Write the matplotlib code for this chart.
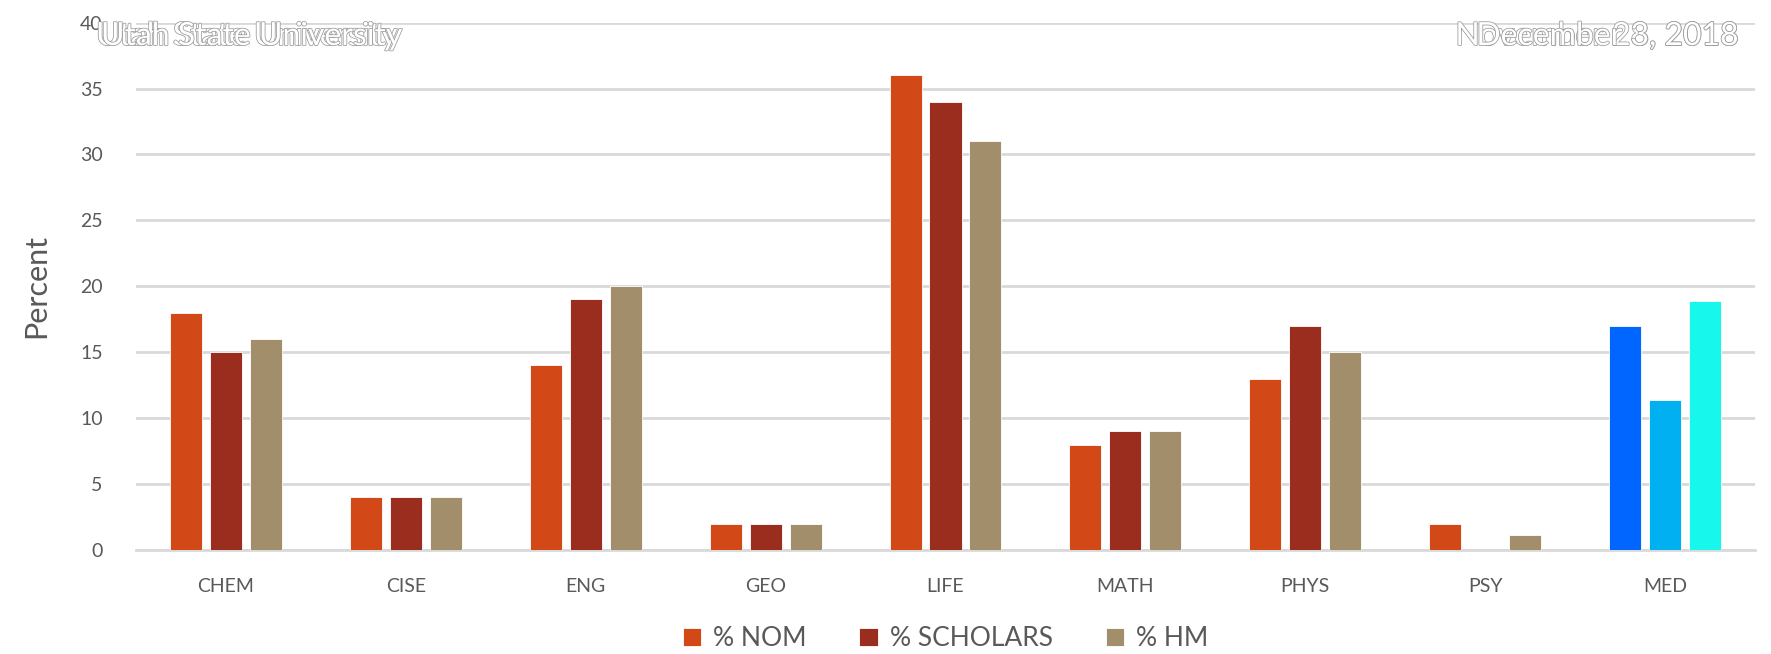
import matplotlib.pyplot as plt
import matplotlib.patheffects as pe
import numpy as np

plt.rcParams['font.family'] = ['Lato', 'DejaVu Sans']

categories = ['CHEM', 'CISE', 'ENG', 'GEO', 'LIFE', 'MATH', 'PHYS', 'PSY', 'MED']
nom = [18, 4, 14, 2, 36, 8, 13, 2, 17]
scholars = [15, 4, 19, 2, 34, 9, 17, 0, 11.4]
hm = [16, 4, 20, 2, 31, 9, 15, 1.1, 18.9]
series_names = ['% NOM', '% SCHOLARS', '% HM']

colors = ['#D34817', '#9B2D1F', '#A28E6A']
med_colors = ['#0066FF', '#00B0F0', '#17F7EC']

fig = plt.figure(figsize=(17.71, 6.54), dpi=100)
ax = fig.add_axes([136/1771, 1-550/654, (1755-136)/1771, (550-22.6)/654])

x = np.arange(len(categories))
w = 0.178
step = 0.222
for i, (vals, name) in enumerate(zip([nom, scholars, hm], series_names)):
    cols = [colors[i]] * (len(categories) - 1) + [med_colors[i]]
    ax.bar(x + (i - 1) * step, vals, w, color=cols, label=name,
           edgecolor='#FFFFFF', linewidth=0.6, zorder=3)

ax.set_xlim(-0.5, len(categories) - 0.5)
ax.set_ylim(0, 40)
ax.set_yticks(range(0, 41, 5))
ax.set_xticks(x)
ax.set_xticklabels(categories)
ax.yaxis.grid(True, color='#D9D9D9', linewidth=2, zorder=0)
ax.set_axisbelow(True)
for s in ['top', 'right', 'left']:
    ax.spines[s].set_visible(False)
ax.spines['bottom'].set_color('#D9D9D9')
ax.spines['bottom'].set_linewidth(2)
ax.tick_params(axis='both', length=0, labelsize=14, labelcolor='#595959')
ax.tick_params(axis='x', pad=20)
ax.tick_params(axis='y', pad=24)
ax.set_ylabel('Percent', fontsize=22, color='#595959')
ax.yaxis.set_label_coords(-0.053, 0.5)

leg = ax.legend(loc='upper center', bbox_to_anchor=(0.5, -0.1), ncol=3,
                frameon=False, fontsize=19, handlelength=0.7, handleheight=0.7,
                handletextpad=0.45, columnspacing=2.0, labelcolor='#595959')

# overlapping header texts
outline = [pe.withStroke(linewidth=1.1, foreground='#9A9A9A')]
for txt, dx in [('Utah State University', 0), ('Utah State University', 5)]:
    fig.text((96 + dx)/1771, 1-36/654, txt, fontsize=23, color='white',
             ha='left', va='center', path_effects=outline)
for txt in ['November 28, 2018', 'December 3, 2018']:
    fig.text(1739/1771, 1-36/654, txt, fontsize=23, color='white',
             ha='right', va='center', path_effects=outline)

fig.savefig('out.png', dpi=100)
